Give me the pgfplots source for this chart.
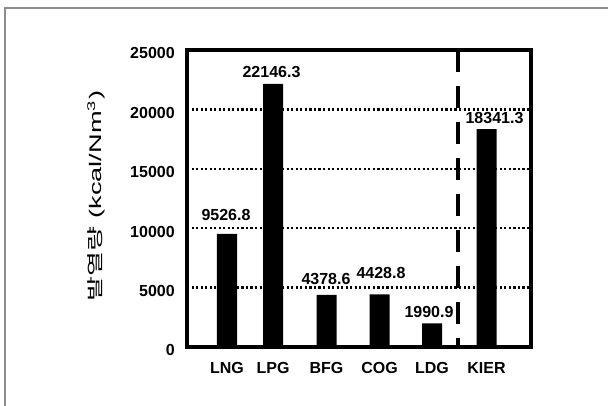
\documentclass[border=0pt]{standalone}
\usepackage{fontspec}
\setmainfont{Liberation Sans}
\newfontfamily\kr{Noto Sans CJK KR}
\usepackage{graphicx}
\usepackage{pgfplots}
\pgfplotsset{compat=1.18}
\begin{document}
\begin{tikzpicture}
\useasboundingbox (0,0) rectangle (456pt,304.5pt);
% outer frame (left and top visible)
\draw[black!45, line width=0.9pt] (3.75pt,0) -- (3.75pt,298.5pt) -- (456pt,298.5pt);
\begin{axis}[
  at={(140.25pt,44.25pt)}, anchor=south west,
  width=258pt, height=222.75pt, scale only axis,
  xmin=187, xmax=531, ymin=0, ymax=25000,
  clip=false,
  scaled y ticks=false, scaled x ticks=false,
  axis line style={line width=2.4pt},
  major tick length=0pt,
  ytick={0,5000,10000,15000,20000,25000},
  yticklabels={0,5000,10000,15000,20000,25000},
  xtick={227,273,326.5,379.5,432,486.5},
  xticklabels={LNG,LPG,BFG,COG,LDG,KIER},
  ymajorgrids,
  grid style={black, line width=1.8pt, dash pattern=on 1.6pt off 1.8pt},
  yticklabel style={font=\bfseries\fontsize{12}{14}\selectfont, inner sep=0pt, anchor=east, xshift=-9pt, yshift=-2.5pt},
  xticklabel style={font=\bfseries\fontsize{12}{14}\selectfont, inner sep=0pt, anchor=center, yshift=-15.5pt},
]
\addplot[ybar, bar width=20, fill=black, draw=none] coordinates {
  (227,9526.8) (273,22146.3) (326.5,4378.6) (379.5,4428.8) (432,1990.9) (486.5,18341.3)
};
\draw[black, line width=3pt, dash pattern=on 16.5pt off 10.5pt] (axis cs:458,25000) -- (axis cs:458,0);
\begin{scope}[every node/.style={font=\bfseries\fontsize{12}{14}\selectfont, inner sep=0pt, anchor=center}]
\node[yshift=14.25pt] at (axis cs:226,9526.8) {9526.8};
\node[yshift=9pt] at (axis cs:271.5,22146.3) {22146.3};
\node[yshift=12pt] at (axis cs:326,4378.6) {4378.6};
\node[yshift=15.75pt] at (axis cs:381,4428.8) {4428.8};
\node[yshift=8.25pt] at (axis cs:429,1990.9) {1990.9};
\node[yshift=8.25pt] at (axis cs:494.5,18341.3) {18341.3};
\end{scope}
\end{axis}
\node[rotate=90, inner sep=0pt, anchor=center] at (72pt,157.5pt)
  {\scalebox{1.7}[1.05]{\fontsize{12}{14}\selectfont{\kr 발열량} (kcal/Nm\textsuperscript{3})}};
\end{tikzpicture}
\end{document}
